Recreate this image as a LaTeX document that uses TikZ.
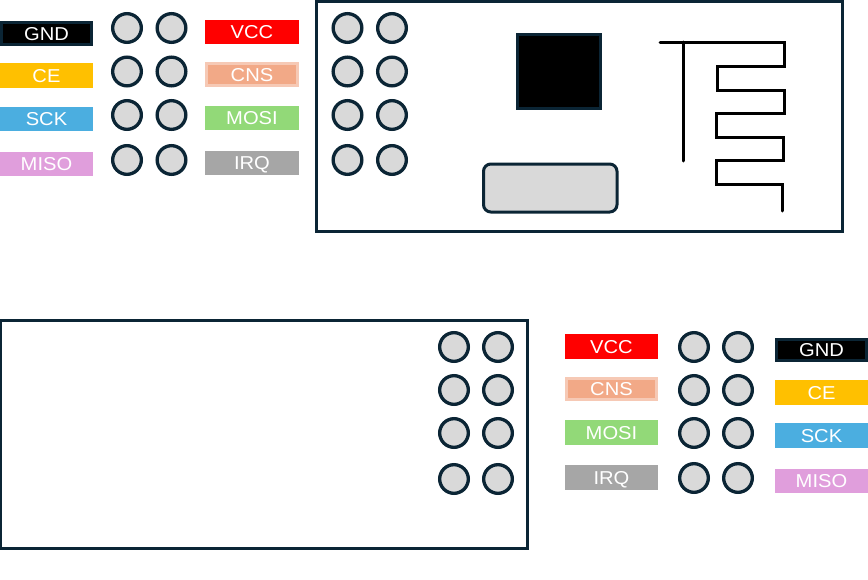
\documentclass[tikz,border=0pt]{standalone}
\usepackage{fontspec}
\setmainfont[FakeStretch=1.08]{Liberation Sans}
\definecolor{navy}{HTML}{0B2535}
\definecolor{padgray}{HTML}{D9D9D9}
\definecolor{ceyellow}{HTML}{FFC000}
\definecolor{sckblue}{HTML}{4BAEE0}
\definecolor{misopink}{HTML}{E09EDC}
\definecolor{cnsfill}{HTML}{F2A987}
\definecolor{cnsedge}{HTML}{F6C9B5}
\definecolor{mosigreen}{HTML}{92D978}
\definecolor{irqgray}{HTML}{A6A6A6}
\tikzset{
  x=0.75pt,y=-0.75pt,
  pin/.style={circle,draw=navy,fill=padgray,line width=2.5pt,inner sep=0pt,minimum size=21.5pt},
  board/.style={draw=navy,fill=white,line width=2.25pt},
  tag/.style={inner sep=0pt,text=white,font=\fontsize{14}{14}\selectfont,text height=10pt,text depth=0pt,minimum width=70.2pt,minimum height=18.4pt},
  edgetag/.style={tag,line width=2.25pt,minimum width=67.9pt,minimum height=16.4pt},
  gndtag/.style={edgetag,draw=navy,fill=black},
  cetag/.style={tag,fill=ceyellow},
  scktag/.style={tag,fill=sckblue},
  misotag/.style={tag,fill=misopink},
  vcctag/.style={tag,fill=red},
  cnstag/.style={edgetag,draw=cnsedge,fill=cnsfill},
  mositag/.style={tag,fill=mosigreen},
  irqtag/.style={tag,fill=irqgray},
  antenna/.style={draw=black,line width=2.25pt,line cap=round,line join=miter},
}
\begin{document}
\begin{tikzpicture}
\useasboundingbox (0,0) rectangle (868,579);
% boards
\draw[board] (316.5,1.5) rectangle (842.5,231);
\draw[board] (0.5,320) rectangle (527,548);
% chip and crystal
\draw[draw=navy,fill=black,line width=2.25pt] (517.5,34.5) rectangle (600.5,108.5);
\draw[draw=navy,fill=padgray,line width=2.25pt,rounded corners=5.5pt] (483.5,164) rectangle (617,212);
% antenna
\draw[antenna] (660,42) -- (784.5,42) -- (784.5,66.5) -- (717,66.5) -- (717,90) -- (784,90) -- (784,113) -- (716,113) -- (716,137) -- (783,137) -- (783,160) -- (716,160) -- (716,184) -- (782,184) -- (782,211);
\draw[antenna] (683.5,42) -- (683.5,161);
% pin groups
\foreach \n/\xa/\xb/\ya/\yb/\yc/\yd in {a/127/171.5/28/71.5/115/160, b/347.5/392/28/71.5/115/160, c/454/498/347/390/433/479, d/694/738/347/390/433/478}{
  \node[pin] (\n1) at (\xa,\ya) {};
  \node[pin] (\n2) at (\xb,\ya) {};
  \node[pin] (\n3) at (\xa,\yb) {};
  \node[pin] (\n4) at (\xb,\yb) {};
  \node[pin] (\n5) at (\xa,\yc) {};
  \node[pin] (\n6) at (\xb,\yc) {};
  \node[pin] (\n7) at (\xa,\yd) {};
  \node[pin] (\n8) at (\xb,\yd) {};
}
% top labels
\node[gndtag] (gndA) at (46.5,33.5) {GND};
\node[cetag] (ceA) at (46.5,75.5) {CE};
\node[scktag] (sckA) at (46.5,119) {SCK};
\node[misotag] (misoA) at (46.5,164) {MISO};
\node[vcctag] (vccA) at (252,32) {VCC};
\node[cnstag] (cnsA) at (252,74.5) {CNS};
\node[mositag] (mosiA) at (252,118) {MOSI};
\node[irqtag] (irqA) at (252,163) {IRQ};
% bottom labels
\node[vcctag] (vccB) at (611.5,346.5) {VCC};
\node[cnstag] (cnsB) at (611.5,389) {CNS};
\node[mositag] (mosiB) at (611.5,432.5) {MOSI};
\node[irqtag] (irqB) at (611.5,477.5) {IRQ};
\node[gndtag] (gndB) at (821.5,350) {GND};
\node[cetag] (ceB) at (821.5,392.5) {CE};
\node[scktag] (sckB) at (821.5,435.5) {SCK};
\node[misotag] (misoB) at (821.5,481) {MISO};
\end{tikzpicture}
\end{document}
